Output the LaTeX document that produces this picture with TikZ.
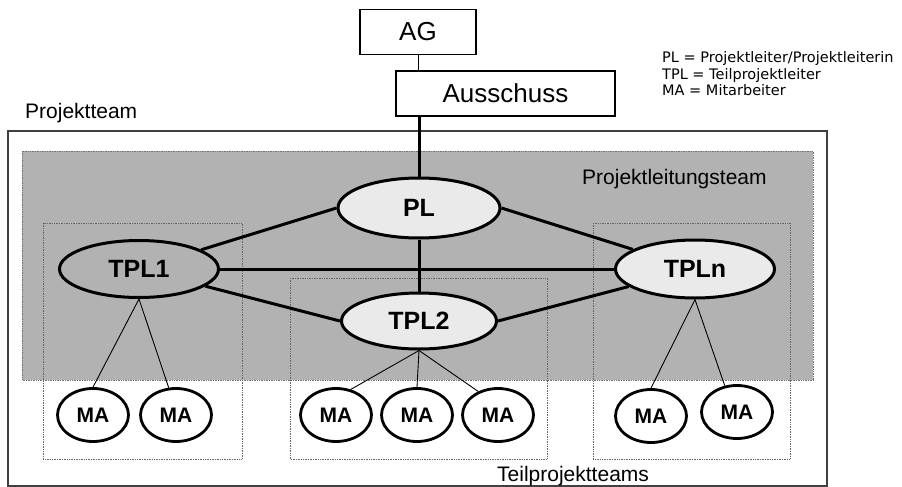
\documentclass[tikz,border=0pt]{standalone}
\usepackage{fontspec}
\setmainfont{Liberation Sans}
\newfontfamily\legendfont{DejaVu Sans}
\usetikzlibrary{shapes.geometric}
\definecolor{TeamGray}{HTML}{B2B2B2}
\definecolor{LeadFill}{HTML}{EAEAEA}

\begin{document}
\begin{tikzpicture}[x=1pt, y=-1pt, every node/.style={inner sep=0pt},
    topbox/.style={draw, line width=1.8pt, minimum height=45pt, font=\fontsize{26}{30}\selectfont},
    lead/.style={ellipse, draw, line width=3pt, fill=LeadFill, minimum width=159pt, minimum height=57pt, font=\bfseries\fontsize{25}{30}\selectfont},
    worker/.style={ellipse, draw, line width=2.8pt, fill=white, minimum width=71pt, minimum height=53pt, font=\bfseries\fontsize{21}{25}\selectfont},
    teambox/.style={draw=black!60, line width=0.7pt, densely dotted},
    bond/.style={line width=3pt},
    twig/.style={line width=0.9pt},
    caption/.style={font=\fontsize{21}{25}\selectfont, anchor=base west},
    legendtext/.style={font=\legendfont\fontsize{14.5}{17}\selectfont, anchor=base west}]
        \useasboundingbox (0,0) rectangle (902,487);
        % Projektteam
        \draw[draw=black!75, line width=1.2pt] (8,131) rectangle (827,486);
        \node[caption] (projektteam) at (25,118) {Projektteam};
        % Projektleitungsteam
        \draw[fill=TeamGray, draw=black!55, line width=0.7pt, densely dotted] (22,151) rectangle (813,380);
        \node[caption] (leitung) at (582,184) {Projektleitungsteam};
        % Teilprojektteams
        \draw[teambox] (43,223) rectangle (242,459);
        \draw[teambox] (290,278) rectangle (547,459);
        \draw[teambox] (593,223) rectangle (790,459);
        \node[caption] (teilteams) at (497,481) {Teilprojektteams};
        % Gremien
        \node[topbox, minimum width=116pt] (ag) at (418,32) {AG};
        \node[topbox, minimum width=219pt] (aus) at (505.5,93.5) {Ausschuss};
        \node[legendtext] (leg1) at (662,62.7) {PL = Projektleiter/Projektleiterin};
        \node[legendtext] (leg2) at (662,79.3) {TPL = Teilprojektleiter};
        \node[legendtext] (leg3) at (662,95.7) {MA = Mitarbeiter};
        % Leitung
        \node[lead, minimum width=162pt, minimum height=60pt] (pl) at (419,208) {PL};
        \node[lead, fill=TeamGray] (tpl1) at (139,269) {TPL1};
        \node[lead, minimum width=155pt, minimum height=56pt] (tpl2) at (419,321) {TPL2};
        \node[lead, minimum height=58pt] (tpln) at (695,269) {TPLn};
        % Mitarbeiter
        \node[worker] (ma11) at (93,415) {MA};
        \node[worker] (ma12) at (176,415) {MA};
        \node[worker] (ma21) at (336,415) {MA};
        \node[worker] (ma22) at (417,415) {MA};
        \node[worker] (ma23) at (498,415) {MA};
        \node[worker] (man1) at (651,416) {MA};
        \node[worker] (man2) at (737,412) {MA};
        % Verbindungen
        \draw[twig] (ag.south) -- (ag.south |- aus.north);
        \draw[bond] (pl.north) -- (pl.north |- aus.south);
        \draw[bond] (tpl1) -- (pl.west);
        \draw[bond] (pl.east) -- (tpln);
        \draw[bond] (pl) -- (tpl2);
        \draw[bond] (tpl1) -- (tpln);
        \draw[bond] (tpl1) -- (tpl2.west);
        \draw[bond] (tpl2.east) -- (tpln);
        \draw[twig] (tpl1.south) -- (ma11.north);
        \draw[twig] (tpl1.south) -- (ma12.105);
        \draw[twig] (tpl2.south) -- (ma21.60);
        \draw[twig] (tpl2.south) -- (ma22.north);
        \draw[twig] (tpl2.south) -- (ma23.130);
        \draw[twig] (tpln.south) -- (man1.north);
        \draw[twig] (tpln.south) -- (man2.115);
      \end{tikzpicture}
\end{document}
